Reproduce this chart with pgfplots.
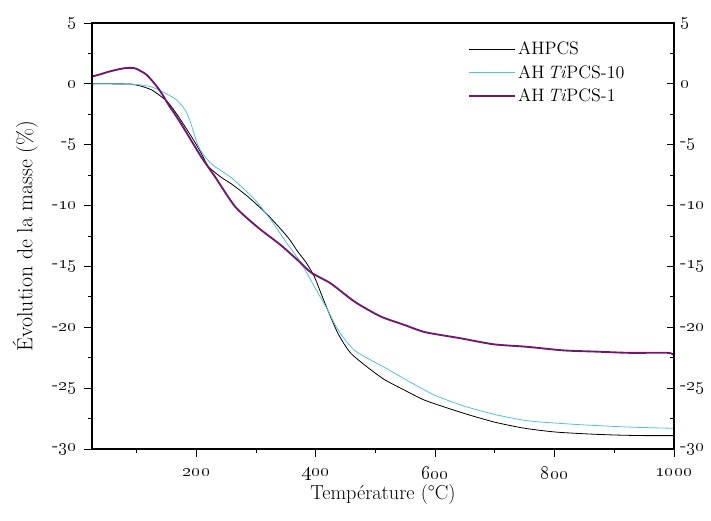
\documentclass[border=0pt]{standalone}
\usepackage{pgfplots}
\pgfplotsset{compat=1.18}
\definecolor{cyanc}{RGB}{80,195,218}
\definecolor{purp}{RGB}{112,24,112}
\newcommand{\os}[1]{\oldstylenums{#1}}
\begin{document}
\begin{tikzpicture}
\pgfplotsset{
  commonax/.style={
    scale only axis, width=436.5pt, height=319.5pt,
    xmin=25, xmax=1000, ymin=-30, ymax=5,
    axis line style={line width=0.8pt},
    tick style={line width=0.7pt, black},
    ytick={-30,-25,...,5},
    minor y tick num=1,
    tick label style={font=\Large},
  }
}
\begin{axis}[commonax, name=main,
  tick align=outside,
  major tick length=6pt, minor tick length=3pt,
  xtick={200,400,600,800,1000},
  minor xtick={100,300,500,700,900},
  xtick pos=bottom, ytick pos=left,
  xticklabels={\os{200},\os{400},\os{600},\os{800},\os{1000}},
  yticklabels={-\os{30},-\os{25},-\os{20},-\os{15},-\os{10},-\os{5},\os{0},\os{5}},
  xticklabel style={yshift=-4.5pt},
  yticklabel style={xshift=-2pt},
  xlabel={Température (°C)},
  ylabel={Évolution de la masse (\%)},
  xlabel style={font=\fontsize{15.2}{18}\selectfont, at={(axis description cs:0.5,0)}, anchor=center, yshift=-34pt},
  ylabel style={font=\fontsize{16.4}{19}\selectfont, at={(axis description cs:0,0.5)}, anchor=center, yshift=50pt},
  legend style={at={(0.646,0.962)}, anchor=north west, draw=none, fill=none,
    font=\fontsize{13.5}{16}\selectfont, row sep=2.2pt, inner sep=0pt},
  legend cell align=left,
  legend image code/.code={\draw[#1] (0cm,0cm) -- (34pt,0cm);},
]
\addplot[black, line width=0.6pt, smooth, tension=0.4] coordinates {
(25,0) (60,0) (90,-0.02) (108,-0.2) (125,-0.5) (137,-0.9) (150,-1.4) (160,-2.0)
(170,-2.7) (182,-3.6) (195,-4.6) (208,-5.7) (220,-6.8) (242,-7.7) (258,-8.2)
(287,-9.3) (320,-10.8) (353,-12.6) (370,-13.8) (384,-14.7) (398,-15.9) (415,-18.0)
(437,-20.5) (458,-22.1) (487,-23.3) (515,-24.3) (542,-25.0) (578,-25.9) (600,-26.3)
(650,-27.1) (700,-27.8) (750,-28.3) (800,-28.6) (850,-28.75) (900,-28.85) (950,-28.9) (1000,-28.9)
};
\addlegendentry{AHPCS}
\addplot[cyanc, line width=0.6pt, smooth, tension=0.4] coordinates {
(25,0) (80,0) (108,-0.1) (125,-0.25) (137,-0.5) (153,-0.9) (166,-1.3) (176,-1.8) (183,-2.3)
(188,-2.9) (193,-3.6) (198,-4.4) (203,-5.1) (210,-5.7) (218,-6.2) (228,-6.7) (258,-7.7) (285,-8.9)
(303,-9.8) (325,-11.2) (353,-13.2) (375,-14.7) (398,-16.7) (420,-18.6)
(437,-20.2) (465,-21.9) (515,-23.3) (558,-24.5) (600,-25.6) (650,-26.5) (703,-27.2)
(758,-27.7) (842,-28.0) (925,-28.2) (1000,-28.3)
};
\addlegendentry{AH\,\textit{Ti}PCS-10}
\addplot[purp, line width=1.4pt, smooth, tension=0.4] coordinates {
(25,0.6) (40,0.8) (53,1.0) (70,1.2) (82,1.3) (95,1.3) (103,1.15) (115,0.8) (125,0.3)
(135,-0.3) (142,-0.8) (153,-1.7) (168,-2.8) (182,-3.9) (208,-6.0)
(232,-7.7) (265,-10.1) (303,-11.8) (340,-13.2) (370,-14.5) (392,-15.5) (425,-16.4)
(465,-17.9) (508,-19.1) (548,-19.8) (583,-20.4) (642,-20.9) (698,-21.4) (753,-21.6)
(815,-21.9) (870,-22.0) (925,-22.1) (990,-22.1) (1000,-22.3)
};
\addlegendentry{AH\,\textit{Ti}PCS-1}
\end{axis}
\begin{axis}[commonax,
  axis x line=none,
  tick align=inside,
  major tick length=5.5pt, minor tick length=3pt,
  ytick pos=right, yticklabel pos=right,
  yticklabel style={xshift=1pt},
  yticklabels={-\os{30},-\os{25},-\os{20},-\os{15},-\os{10},-\os{5},\os{0},\os{5}},
]
\end{axis}
\pgfresetboundingbox
\path[use as bounding box] ([xshift=-69pt,yshift=-54pt]main.south west) rectangle ([xshift=27.75pt,yshift=17.25pt]main.north east);
\end{tikzpicture}
\end{document}
